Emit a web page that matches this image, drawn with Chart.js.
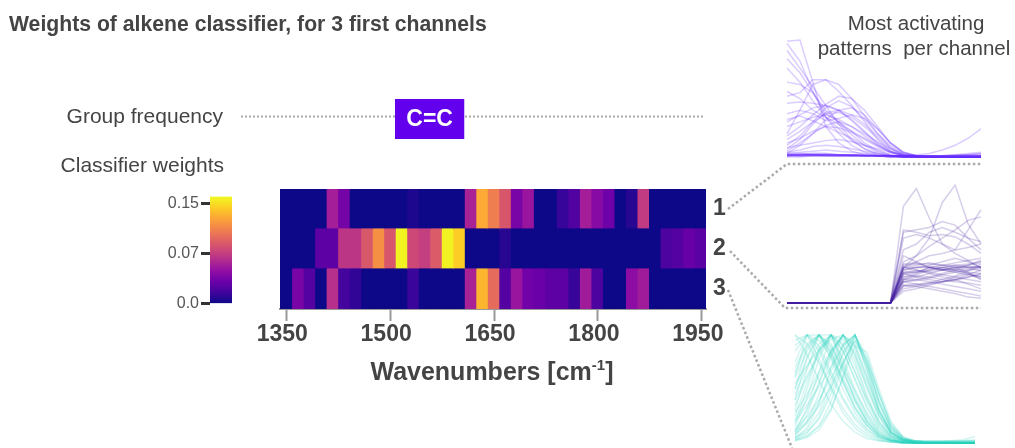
<!DOCTYPE html>
<html><head><meta charset="utf-8">
<script src="https://cdn.jsdelivr.net/npm/chart.js@4.4.1/dist/chart.umd.min.js"></script>
<style>
html,body{margin:0;padding:0;background:#fff;width:1015px;height:448px;overflow:hidden;}
#wrap{position:relative;width:1015px;height:448px;}
canvas{position:absolute;}
svg{position:absolute;left:0;top:0;pointer-events:none;}
</style></head><body>
<div id="wrap">
<canvas id="main" width="1015" height="448" style="left:0;top:0"></canvas>
<canvas id="cbar" width="100" height="130" style="left:140px;top:185px"></canvas>
<canvas id="p1" width="198" height="121" style="left:785px;top:38px"></canvas>
<canvas id="p2" width="198" height="122" style="left:785px;top:183px"></canvas>
<canvas id="p3" width="184" height="112" style="left:793px;top:333px"></canvas>
<svg width="1015" height="448" font-family="'Liberation Sans', Arial, sans-serif">
<text x="9" y="31" font-size="21.2" font-weight="bold" fill="#444">Weights of alkene classifier, for 3 first channels</text>
<text x="916" y="30" font-size="20.5" fill="#444" text-anchor="middle">Most activating</text>
<text x="914" y="55" font-size="20.5" fill="#444" text-anchor="middle" style="white-space:pre">patterns  per channel</text>
<text x="223" y="123" font-size="21" fill="#444" text-anchor="end">Group frequency</text>
<text x="224" y="172" font-size="21" fill="#444" text-anchor="end">Classifier weights</text>
<text x="492" y="380" font-size="25" font-weight="bold" fill="#444" text-anchor="middle">Wavenumbers [cm<tspan font-size="15" dy="-10">-1</tspan><tspan dy="10">]</tspan></text>
<g stroke="#aaa" stroke-width="2.5" stroke-dasharray="2.5 2.5" fill="none">
<polyline points="728,209 787,164 981,164"/>
<polyline points="730,251 785,308 981,308"/>
<polyline points="728,290 792,448"/>
</g>
</svg>
</div>
<script>
// ---------------- DATA ----------------
const channelLabels = ['1', '2', '3'];
const binStart = 1341;      // cm-1, left edge of first bin
const binWidth = 16.62;     // cm-1 per bin
const channel1 = [0,0,0,0,0.058,0.037,0,0,0,0,0,0.005,0,0,0,0,0.060,0.130,0.109,0.089,0.039,0.053,0,0,0.013,0.023,0.058,0.045,0.034,0,0.008,0.074,0,0,0,0,0];
const channel2 = [0,0,0,0.027,0.027,0.071,0.071,0.090,0.118,0.089,0.159,0.081,0.076,0.092,0.158,0.145,0,0,0,0.008,0,0,0,0,0,0,0,0,0,0,0,0,0,0.021,0.024,0.031,0.026];
const channel3 = [0,0.039,0.024,0,0.068,0.018,0.011,0,0,0,0,0.014,0,0,0,0,0.060,0.135,0.100,0.024,0.053,0.035,0.032,0.027,0.027,0.013,0.056,0.021,0,0,0.047,0.056,0,0,0,0,0];
const xTickValues = [1350, 1500, 1650, 1800, 1950];
const xMin = 1341, xMax = 1956;
const colorMax = 0.161;
const cbTickValues = [0, 0.075, 0.15];
const cbTickLabels = ['0.0', '0.07', '0.15'];
const groupLabels = ['C=C'];
const groupStart = [1507];
const groupEnd = [1607];
const patternSteps = [0,1,2,3,4,5,6,7,8,9,10,11,12,13,14,15];

const patterns1 = [
[0.99,1.00,0.64,0.26,0.12,0.05,0.02,0.01,0,0,0,0,0,0,0,0],
[0.97,0.82,0.56,0.34,0.20,0.10,0.04,0.01,0,0,0,0,0,0,0,0],
[0.91,0.76,0.60,0.44,0.28,0.15,0.07,0.02,0.01,0,0,0,0,0,0,0],
[0.76,0.64,0.48,0.34,0.24,0.14,0.07,0.03,0.01,0,0,0,0,0,0,0],
[0.84,0.72,0.55,0.37,0.30,0.22,0.12,0.05,0.02,0,0,0,0,0,0,0],
[0.64,0.62,0.55,0.40,0.30,0.19,0.10,0.04,0.01,0,0,0,0,0,0,0],
[0.52,0.55,0.66,0.66,0.56,0.44,0.30,0.15,0.05,0.01,0,0,0,0,0,0],
[0.46,0.47,0.46,0.44,0.40,0.31,0.21,0.11,0.04,0.01,0,0,0,0,0,0],
[0.37,0.40,0.37,0.31,0.33,0.36,0.33,0.24,0.12,0.04,0.01,0,0,0,0,0],
[0.32,0.35,0.31,0.26,0.21,0.16,0.10,0.06,0.02,0,0,0,0,0,0,0],
[0.26,0.30,0.34,0.36,0.32,0.26,0.18,0.10,0.04,0.01,0,0,0,0,0,0],
[0.15,0.22,0.30,0.37,0.38,0.34,0.26,0.16,0.07,0.02,0,0,0,0,0,0],
[0.07,0.15,0.28,0.38,0.40,0.36,0.28,0.18,0.08,0.03,0.01,0,0,0,0,0],
[0.03,0.10,0.20,0.32,0.40,0.42,0.36,0.24,0.12,0.04,0.01,0,0,0,0,0],
[0.10,0.18,0.30,0.42,0.48,0.43,0.32,0.20,0.10,0.03,0,0,0,0,0,0],
[0.05,0.12,0.20,0.27,0.30,0.26,0.20,0.13,0.07,0.02,0,0,0,0,0,0],
[0.20,0.40,0.62,0.66,0.62,0.50,0.35,0.20,0.08,0.02,0,0,0,0,0,0],
[0.12,0.16,0.22,0.26,0.25,0.21,0.15,0.09,0.04,0.01,0,0,0,0,0,0],
[0.02,0.02,0.03,0.03,0.02,0.02,0.01,0.01,0.01,0.01,0.02,0.03,0.06,0.10,0.16,0.24],
[0.08,0.10,0.12,0.14,0.15,0.13,0.10,0.07,0.04,0.02,0.01,0,0,0,0,0],
[0.30,0.36,0.42,0.44,0.40,0.32,0.22,0.12,0.05,0.01,0,0,0,0,0,0],
[0.56,0.50,0.40,0.34,0.28,0.22,0.16,0.10,0.05,0.02,0.01,0,0,0,0,0],
[0.18,0.26,0.36,0.45,0.52,0.50,0.40,0.26,0.12,0.04,0.01,0,0,0,0,0],
[0.02,0.02,0.02,0.02,0.02,0.02,0.02,0.01,0.01,0.01,0.01,0.01,0.01,0.01,0.01,0.01],
[0.01,0.01,0.01,0.01,0.01,0.01,0.01,0.01,0.01,0.01,0.01,0.01,0.01,0.01,0.01,0.01],
[0.03,0.03,0.02,0.02,0.02,0.01,0.01,0.01,0,0,0,0,0,0.01,0.02,0.03],
[0.01,0.02,0.02,0.02,0.02,0.02,0.01,0.01,0.01,0,0,0,0,0,0.01,0.01],
[0.02,0.01,0.01,0.01,0.01,0.01,0.01,0.01,0.01,0.01,0.01,0.01,0.01,0.02,0.03,0.04],
[0,0,0.01,0.01,0.01,0.01,0.01,0.01,0,0,0,0,0,0,0,0],
[0.03,0.04,0.05,0.06,0.05,0.04,0.03,0.02,0.01,0,0,0,0,0,0,0],
[0.04,0.06,0.09,0.10,0.09,0.07,0.05,0.03,0.01,0,0,0,0,0,0,0],
[0.02,0.02,0.02,0.02,0.02,0.02,0.01,0.01,0.01,0.01,0.01,0.01,0.01,0.01,0.02,0.02],
[0.01,0.01,0.02,0.02,0.02,0.02,0.02,0.01,0.01,0.01,0.01,0.01,0.01,0.01,0.01,0.01],
[0.02,0.03,0.03,0.03,0.02,0.02,0.01,0.01,0.01,0.01,0.01,0.01,0.01,0.01,0.01,0.01],
[0.01,0.01,0.01,0.01,0.01,0.01,0.01,0.01,0.01,0.01,0.01,0.01,0.01,0.02,0.02,0.03],
[0.02,0.02,0.02,0.01,0.01,0.01,0.01,0.01,0.01,0.01,0.01,0.01,0.01,0.01,0.01,0.01],
[0.01,0.02,0.02,0.02,0.01,0.01,0.01,0.01,0.01,0.01,0.01,0.01,0.01,0.01,0.01,0.01]
];

const patterns2 = [
[0,0,0,0,0,0,0,0,0,0.82,0.97,0.72,0.50,0.42,0.36,0.30],
[0,0,0,0,0,0,0,0,0,0.30,0.40,0.55,0.85,1.00,0.67,0.50],
[0,0,0,0,0,0,0,0,0,0.60,0.62,0.64,0.69,0.66,0.55,0.45],
[0,0,0,0,0,0,0,0,0,0.55,0.58,0.55,0.50,0.45,0.62,0.79],
[0,0,0,0,0,0,0,0,0,0.35,0.40,0.48,0.55,0.62,0.70,0.73],
[0,0,0,0,0,0,0,0,0,0.45,0.50,0.60,0.64,0.60,0.55,0.52],
[0,0,0,0,0,0,0,0,0,0.30,0.35,0.40,0.42,0.45,0.47,0.50],
[0,0,0,0,0,0,0,0,0,0.30,0.30,0.31,0.30,0.31,0.30,0.30],
[0,0,0,0,0,0,0,0,0,0.28,0.30,0.30,0.29,0.28,0.28,0.29],
[0,0,0,0,0,0,0,0,0,0.25,0.27,0.28,0.30,0.32,0.33,0.35],
[0,0,0,0,0,0,0,0,0,0.20,0.22,0.25,0.28,0.30,0.32,0.36],
[0,0,0,0,0,0,0,0,0,0.18,0.20,0.22,0.25,0.28,0.30,0.27],
[0,0,0,0,0,0,0,0,0,0.22,0.23,0.22,0.20,0.18,0.17,0.15],
[0,0,0,0,0,0,0,0,0,0.20,0.20,0.18,0.16,0.14,0.12,0.10],
[0,0,0,0,0,0,0,0,0,0.15,0.16,0.17,0.18,0.20,0.22,0.25],
[0,0,0,0,0,0,0,0,0,0.18,0.16,0.14,0.12,0.10,0.08,0.06],
[0,0,0,0,0,0,0,0,0,0.12,0.14,0.16,0.18,0.20,0.24,0.28],
[0,0,0,0,0,0,0,0,0,0.25,0.22,0.20,0.18,0.19,0.22,0.24],
[0,0,0,0,0,0,0,0,0,0.10,0.12,0.15,0.18,0.22,0.25,0.20],
[0,0,0,0,0,0,0,0,0,0.28,0.30,0.32,0.35,0.38,0.35,0.30],
[0,0,0,0,0,0,0,0,0,0.20,0.24,0.28,0.30,0.28,0.25,0.22],
[0,0,0,0,0,0,0,0,0,0.15,0.14,0.12,0.10,0.08,0.05,0.04],
[0,0,0,0,0,0,0,0,0,0.30,0.28,0.25,0.22,0.20,0.16,0.12],
[0,0,0,0,0,0,0,0,0,0.40,0.35,0.30,0.28,0.26,0.24,0.22],
[0,0,0,0,0,0,0,0,0,0.22,0.25,0.30,0.28,0.30,0.30,0.31],
[0,0,0,0,0,0,0,0,0,0.62,0.60,0.57,0.58,0.56,0.50,0.42],
[0,0,0,0,0,0,0,0,0,0.32,0.33,0.33,0.32,0.32,0.31,0.30],
[0,0,0,0,0,0,0,0,0,0.26,0.26,0.27,0.28,0.27,0.26,0.25],
[0,0,0,0,0,0,0,0,0,0.24,0.26,0.30,0.32,0.34,0.36,0.38],
[0,0,0,0,0,0,0,0,0,0.18,0.19,0.21,0.24,0.26,0.28,0.33],
[0,0,0,0,0,0,0,0,0,0.30,0.32,0.34,0.32,0.30,0.26,0.20],
[0,0,0,0,0,0,0,0,0,0.14,0.15,0.17,0.20,0.23,0.27,0.31],
[0,0,0,0,0,0,0,0,0,0.26,0.28,0.26,0.24,0.22,0.20,0.18],
[0,0,0,0,0,0,0,0,0,0.33,0.34,0.30,0.28,0.29,0.32,0.34]
];

const patterns3 = [
[1.00,0.92,0.74,0.52,0.32,0.17,0.08,0.03,0.01,0,0,0,0,0,0,0],
[0.95,1.00,0.86,0.62,0.40,0.22,0.10,0.04,0.01,0,0,0,0,0,0,0],
[0.62,1.00,0.90,0.66,0.42,0.24,0.12,0.05,0.02,0.01,0,0,0,0,0,0],
[0.40,0.80,1.00,0.85,0.58,0.34,0.17,0.07,0.02,0.01,0,0,0,0,0,0],
[0.30,0.68,1.00,0.92,0.66,0.40,0.20,0.08,0.03,0.01,0,0,0,0,0,0],
[0.15,0.42,0.78,1.00,0.85,0.58,0.32,0.14,0.05,0.01,0,0,0,0,0,0],
[0.10,0.32,0.66,1.00,0.92,0.66,0.38,0.17,0.06,0.02,0,0,0,0,0,0],
[0.06,0.20,0.45,0.80,1.00,0.82,0.52,0.25,0.09,0.03,0.01,0,0,0,0,0],
[0.04,0.14,0.36,0.70,1.00,0.90,0.60,0.30,0.11,0.03,0.01,0,0,0,0,0],
[0.03,0.09,0.24,0.50,0.84,1.00,0.74,0.38,0.13,0.04,0.01,0,0,0,0,0],
[0.02,0.06,0.16,0.38,0.72,1.00,0.76,0.45,0.16,0.05,0.01,0,0,0,0,0],
[1.00,0.82,0.58,0.36,0.20,0.10,0.04,0.02,0.01,0,0,0,0,0,0,0],
[0.85,1.00,0.78,0.50,0.28,0.14,0.06,0.02,0.01,0,0,0,0,0,0,0],
[0.70,0.92,1.00,0.78,0.50,0.28,0.13,0.05,0.02,0,0,0,0,0,0,0],
[0.50,0.78,1.00,1.00,0.74,0.46,0.24,0.10,0.03,0.01,0,0,0,0,0,0],
[0.25,0.55,0.88,1.00,0.78,0.50,0.26,0.11,0.04,0.01,0,0,0,0,0,0],
[0.55,0.72,0.86,0.96,1.00,0.80,0.50,0.24,0.08,0.02,0,0,0,0,0,0],
[0.08,0.26,0.55,0.86,1.00,0.76,0.44,0.20,0.07,0.02,0,0,0,0,0,0],
[0.20,0.35,0.52,0.70,0.90,1.00,0.70,0.36,0.12,0.03,0.01,0,0,0,0,0],
[0.05,0.12,0.28,0.55,0.90,1.00,0.68,0.32,0.10,0.03,0.01,0,0,0,0,0],
[0.35,0.60,0.82,1.00,0.96,0.72,0.42,0.18,0.06,0.02,0,0,0,0,0,0],
[0.90,1.00,0.95,0.80,0.56,0.32,0.16,0.06,0.02,0,0,0,0,0,0,0],
[0.18,0.50,0.86,1.00,0.70,0.40,0.19,0.07,0.02,0,0,0,0,0,0,0],
[0.45,0.70,0.92,1.00,0.90,0.66,0.40,0.20,0.07,0.02,0.01,0.01,0.01,0.01,0.02,0.03],
[0.28,0.45,0.66,0.85,1.00,0.92,0.62,0.30,0.10,0.03,0.01,0.01,0.01,0.02,0.03,0.06],
[0.12,0.24,0.40,0.60,0.82,1.00,0.80,0.45,0.16,0.05,0.02,0.01,0,0,0,0],
[0.60,0.85,1.00,0.90,0.70,0.48,0.28,0.12,0.04,0.01,0,0,0,0,0,0],
[0.02,0.05,0.12,0.30,0.62,1.00,0.74,0.40,0.14,0.04,0.01,0,0,0,0,0],
[0.75,1.00,1.00,0.84,0.60,0.38,0.20,0.08,0.03,0.01,0,0,0,0,0,0],
[0.10,0.20,0.34,0.52,0.74,0.95,0.78,0.46,0.18,0.05,0.01,0,0,0,0,0],
[0.05,0.10,0.22,0.45,0.75,0.95,0.72,0.38,0.14,0.04,0.02,0.01,0.01,0.01,0.01,0.01],
[0.08,0.18,0.38,0.66,0.92,1.00,0.66,0.30,0.09,0.03,0.02,0.01,0.01,0.01,0.01,0.02],
[0.40,0.62,0.85,1.00,0.86,0.60,0.34,0.15,0.05,0.02,0.02,0.02,0.02,0.02,0.02,0.02],
[0.22,0.40,0.62,0.84,1.00,0.84,0.54,0.26,0.09,0.03,0.02,0.02,0.02,0.02,0.02,0.02],
[0.12,0.30,0.56,0.82,1.00,0.88,0.58,0.28,0.10,0.03,0.01,0.01,0.01,0.01,0.01,0.01],
[0.50,0.88,1.00,0.82,0.56,0.32,0.16,0.06,0.02,0.01,0.01,0.01,0.01,0.01,0.01,0.01],
[0.03,0.07,0.15,0.32,0.60,0.90,0.84,0.50,0.20,0.06,0.02,0.01,0.01,0.01,0.01,0.01],
[0.65,0.90,1.00,0.88,0.66,0.42,0.22,0.09,0.03,0.01,0.01,0.01,0.01,0.01,0.01,0.01]
];

// ---------------- STYLE / HELPERS ----------------
const FONT = "'Liberation Sans', Arial, Helvetica, sans-serif";
const PLASMA = ['#0d0887','#41049d','#6a00a8','#8f0da4','#b12a90','#cc4778','#e16462','#f2844b','#fca636','#fcce25','#f0f921'];
function hexRgb(h){return [parseInt(h.slice(1,3),16),parseInt(h.slice(3,5),16),parseInt(h.slice(5,7),16)];}
function plasma(t){
  t = Math.max(0, Math.min(1, t));
  const p = t * (PLASMA.length - 1);
  const i = Math.min(PLASMA.length - 2, Math.floor(p));
  const f = p - i;
  const a = hexRgb(PLASMA[i]), b = hexRgb(PLASMA[i+1]);
  const c = a.map((v, k) => Math.round(v + (b[k] - v) * f));
  return `rgb(${c[0]},${c[1]},${c[2]})`;
}

// ---------------- MAIN HEATMAP ----------------
const rows = [channel1, channel2, channel3];
const heatDatasets = channel1.map((_, i) => ({
  data: rows.map(() => [binStart + i * binWidth, binStart + (i + 1) * binWidth]),
  backgroundColor: rows.map(r => plasma(r[i] / colorMax)),
  borderWidth: 0,
  barPercentage: 1,
  categoryPercentage: 1,
  grouped: false,
  inflateAmount: 0.6
}));

const groupPlugin = {
  id: 'groupFreq',
  afterDraw(chart) {
    const c = chart.ctx, xs = chart.scales.x;
    c.save();
    c.strokeStyle = '#aaa';
    c.lineWidth = 2;
    c.setLineDash([2, 2]);
    c.beginPath();
    c.moveTo(241, 116.5);
    c.lineTo(xs.right - 1, 116.5);
    c.stroke();
    c.setLineDash([]);
    groupLabels.forEach((lab, k) => {
      const x0 = xs.getPixelForValue(groupStart[k]);
      const x1 = xs.getPixelForValue(groupEnd[k]);
      c.fillStyle = '#6200ee';
      c.fillRect(x0, 99, x1 - x0, 40);
      c.fillStyle = '#fff';
      c.font = `bold 23px ${FONT}`;
      c.textAlign = 'center';
      c.textBaseline = 'middle';
      c.fillText(lab, (x0 + x1) / 2, 120);
    });
    c.restore();
  }
};

new Chart(document.getElementById('main'), {
  type: 'bar',
  data: { labels: channelLabels, datasets: heatDatasets },
  options: {
    indexAxis: 'y',
    responsive: false,
    animation: false,
    layout: { padding: { left: 280, top: 189, right: 0, bottom: 0 }, autoPadding: false },
    plugins: { legend: { display: false }, tooltip: { enabled: false } },
    scales: {
      x: {
        type: 'linear', min: xMin, max: xMax, position: 'bottom',
        afterBuildTicks: s => { s.ticks = xTickValues.map(v => ({ value: v })); },
        afterFit: s => { s.height = 139; },
        grid: { drawOnChartArea: false, drawTicks: true, tickLength: 12, tickWidth: 2, tickColor: '#999' },
        border: { display: true, color: '#999', width: 2 },
        ticks: { padding: 0, labelOffset: -4, color: '#444', autoSkip: false, maxRotation: 0,
                 font: { family: FONT, size: 23, weight: 'bold' }, callback: v => String(v) }
      },
      y: {
        type: 'category', position: 'right',
        afterFit: s => { s.width = 309; },
        grid: { display: false, drawTicks: false },
        border: { display: false },
        ticks: { padding: 7, color: '#444', font: { family: FONT, size: 23, weight: 'bold' } }
      }
    }
  },
  plugins: [groupPlugin]
});

// ---------------- COLORBAR ----------------
new Chart(document.getElementById('cbar'), {
  type: 'bar',
  data: { labels: [''], datasets: [{
    data: [colorMax],
    backgroundColor: (ctx) => {
      const ca = ctx.chart.chartArea;
      if (!ca) return PLASMA[0];
      const g = ctx.chart.ctx.createLinearGradient(0, ca.bottom, 0, ca.top);
      PLASMA.forEach((col, k) => g.addColorStop(k / (PLASMA.length - 1), col));
      return g;
    },
    borderWidth: 0, barPercentage: 1, categoryPercentage: 1
  }] },
  options: {
    responsive: false, animation: false,
    layout: { padding: { left: 0, top: 9, right: 8, bottom: 11 }, autoPadding: false },
    plugins: { legend: { display: false }, tooltip: { enabled: false } },
    scales: {
      x: { display: false },
      y: {
        min: 0, max: colorMax, position: 'left',
        afterFit: s => { s.width = 70; },
        afterBuildTicks: s => { s.ticks = cbTickValues.map(v => ({ value: v })); },
        grid: { drawOnChartArea: false, drawTicks: true, tickLength: 9, tickWidth: 3, tickColor: '#333' },
        border: { display: false },
        ticks: { padding: 2, color: '#555', font: { family: FONT, size: 16 },
                 callback: (v, i) => cbTickLabels[i] }
      }
    }
  }
});

// ---------------- PATTERN PANELS ----------------
function panel(id, lines, color) {
  new Chart(document.getElementById(id), {
    type: 'line',
    data: { labels: patternSteps, datasets: lines.map(l => ({
      data: l, borderColor: color, borderWidth: 1.5, pointRadius: 0, tension: 0, fill: false, clip: false
    })) },
    options: {
      responsive: false, animation: false,
      layout: { padding: 2, autoPadding: false },
      plugins: { legend: { display: false }, tooltip: { enabled: false } },
      scales: {
        x: { display: false },
        y: { display: false, min: 0, max: 1 }
      }
    }
  });
}
panel('p1', patterns1, 'rgba(105,45,255,0.24)');
panel('p2', patterns2, 'rgba(70,30,160,0.22)');
panel('p3', patterns3, 'rgba(40,212,190,0.2)');
</script>
</body></html>
